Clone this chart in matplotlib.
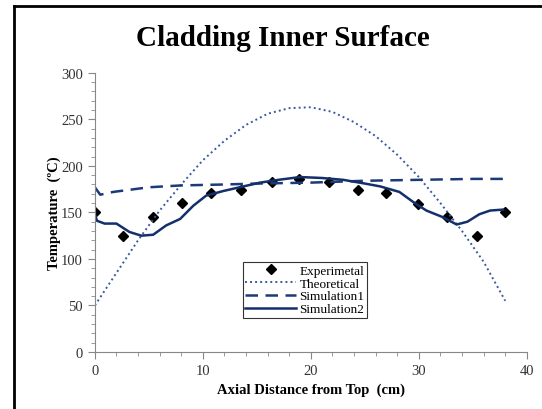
import matplotlib
matplotlib.use("Agg")
import matplotlib.pyplot as plt
from matplotlib.lines import Line2D

plt.rcParams['font.family'] = ['Liberation Serif', 'DejaVu Serif']

# experimental points
x_exp = [0, 2.6, 5.4, 8.1, 10.8, 13.5, 16.4, 18.9, 21.7, 24.4, 27.0, 29.9, 32.6, 35.4, 38.0]
t_exp = [150, 125, 145, 160, 171, 174, 183, 186, 183, 174, 171, 159, 145, 125, 150]

# theoretical curve
x_th = [0, 2, 4, 6, 8, 10, 12, 14, 16, 18, 20, 22, 24, 26, 28, 30, 32, 34, 36, 38]
t_th = [50, 85, 120, 152, 180, 206, 227, 244, 256, 262, 263, 258, 247, 232, 212, 188, 160, 130, 97, 55]

# simulation 1 (dashed)
x_s1 = [0, 0.5, 1.7, 5, 8, 12, 15, 20, 25, 30, 35, 38]
t_s1 = [177, 169, 172, 177, 179, 180, 181, 182, 184, 185, 186, 186]

# simulation 2 (solid)
x_s2 = [0, 0.2, 0.9, 2.0, 3.2, 4.3, 5.4, 6.6, 7.9, 9.1, 10.3, 11.9, 13.4, 15.3, 17.0, 19.0,
        21.0, 23.0, 25.0, 26.4, 28.2, 29.5, 30.7, 32.2, 33.5, 34.5, 35.6, 36.6, 37.8]
t_s2 = [148, 141, 138, 138, 129, 125, 126, 136, 143, 157, 168, 173, 177, 182, 185, 188,
        187, 185, 181, 178, 172, 161, 152, 145, 137, 140, 148, 152, 153]

fig = plt.figure(figsize=(5.42, 4.10), dpi=100)
ax = fig.add_axes([0.175, 0.139, 0.797, 0.681])

ax.plot(x_exp, t_exp, linestyle='none', marker='D', markersize=5.5, color='black', label='Experimetal')
ax.plot(x_th, t_th, linestyle=(0, (1, 1.6)), linewidth=1.4, color='#3a5a9e', label='Theoretical')
ax.plot(x_s1, t_s1, linestyle=(0, (5, 3)), linewidth=1.8, color='#1c3a78', label='Simulation1')
ax.plot(x_s2, t_s2, linestyle='-', linewidth=1.8, color='#142f6b', label='Simulation2')

ax.set_xlim(0, 40)
ax.set_ylim(0, 300)
ax.set_xticks([0, 10, 20, 30, 40])
ax.set_yticks([0, 50, 100, 150, 200, 250, 300])
ax.set_xticks(range(0, 41, 2), minor=True)
ax.set_yticks(range(0, 301, 10), minor=True)
ax.tick_params(axis='both', which='major', direction='out', length=5, color='#888888',
               labelsize=10.5, labelcolor='#333333')
ax.tick_params(axis='both', which='minor', direction='out', length=3, color='#888888')
for s in ['top', 'right']:
    ax.spines[s].set_visible(False)
for s in ['left', 'bottom']:
    ax.spines[s].set_color('#888888')

ax.set_xlabel('Axial Distance from Top  (cm)', fontsize=10.5, fontweight='bold')
ax.set_ylabel('Temperature  (ºC)', fontsize=10.5, fontweight='bold', labelpad=0)

fig.text(0.522, 0.905, 'Cladding Inner Surface', ha='center', va='center',
         fontsize=21, fontweight='bold')

leg = ax.legend(loc='upper left', bbox_to_anchor=(0.448, 0.359), bbox_transform=fig.transFigure,
                fontsize=9.5, frameon=True, fancybox=False, borderpad=0.2, labelspacing=0.05,
                handlelength=3.8, handletextpad=0.3, borderaxespad=0)
leg.get_frame().set_edgecolor('black')
leg.get_frame().set_linewidth(0.8)

# outer frame lines
fig.add_artist(Line2D([0.026, 0.026], [0, 0.983], color='black', linewidth=2, transform=fig.transFigure))
fig.add_artist(Line2D([0.026, 1.0], [0.983, 0.983], color='black', linewidth=2, transform=fig.transFigure))

fig.savefig('out.png', dpi=100)
